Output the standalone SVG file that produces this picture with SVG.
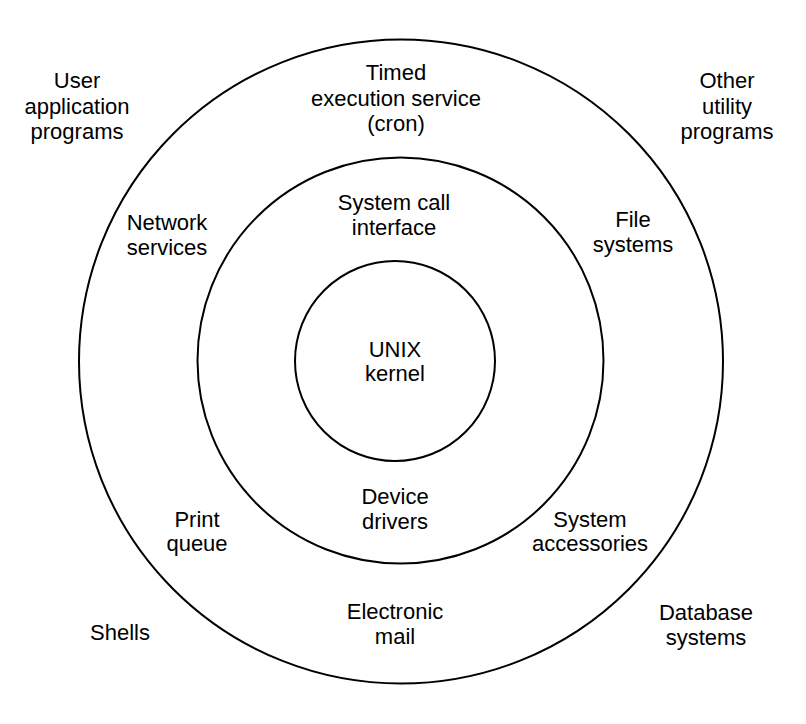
<svg xmlns="http://www.w3.org/2000/svg" width="806" height="724" viewBox="0 0 806 724">
<style>
.ring{fill:none;stroke:#000;stroke-width:2}
.t{font-family:"Liberation Sans",Arial,sans-serif;font-size:22px;fill:#000;text-anchor:middle}
</style>
<rect width="806" height="724" fill="#fff"/>
<g id="rings">
<circle id="outer-ring" class="ring" cx="401" cy="361.5" r="322"/>
<circle id="middle-ring" class="ring" cx="400.5" cy="360.5" r="203"/>
<circle id="kernel-ring" class="ring" cx="395" cy="361" r="100" stroke-width="1.6"/>
</g>
<g id="connectors"></g>
<g id="kernel"><text class="t" x="395" y="357">UNIX</text><text class="t" x="395" y="381">kernel</text></g>
<g id="syscall"><text class="t" x="394" y="210">System call</text><text class="t" x="394" y="235">interface</text></g>
<g id="drivers"><text class="t" x="395" y="504">Device</text><text class="t" x="395" y="529">drivers</text></g>
<g id="cron"><text class="t" x="396" y="80">Timed</text><text class="t" x="396" y="106">execution service</text><text class="t" x="396" y="131">(cron)</text></g>
<g id="network"><text class="t" x="167" y="230">Network</text><text class="t" x="167" y="255">services</text></g>
<g id="filesystems"><text class="t" x="633" y="227">File</text><text class="t" x="633" y="252">systems</text></g>
<g id="printqueue"><text class="t" x="197" y="527">Print</text><text class="t" x="197" y="551">queue</text></g>
<g id="accessories"><text class="t" x="590" y="527">System</text><text class="t" x="590" y="551">accessories</text></g>
<g id="email"><text class="t" x="395" y="619">Electronic</text><text class="t" x="395" y="644">mail</text></g>
<g id="userapps"><text class="t" x="77" y="88">User</text><text class="t" x="77" y="114">application</text><text class="t" x="77" y="139">programs</text></g>
<g id="otherutils"><text class="t" x="727" y="88">Other</text><text class="t" x="727" y="114">utility</text><text class="t" x="727" y="139">programs</text></g>
<g id="shells"><text class="t" x="120" y="640">Shells</text></g>
<g id="database"><text class="t" x="706" y="620">Database</text><text class="t" x="706" y="645">systems</text></g>
</svg>
